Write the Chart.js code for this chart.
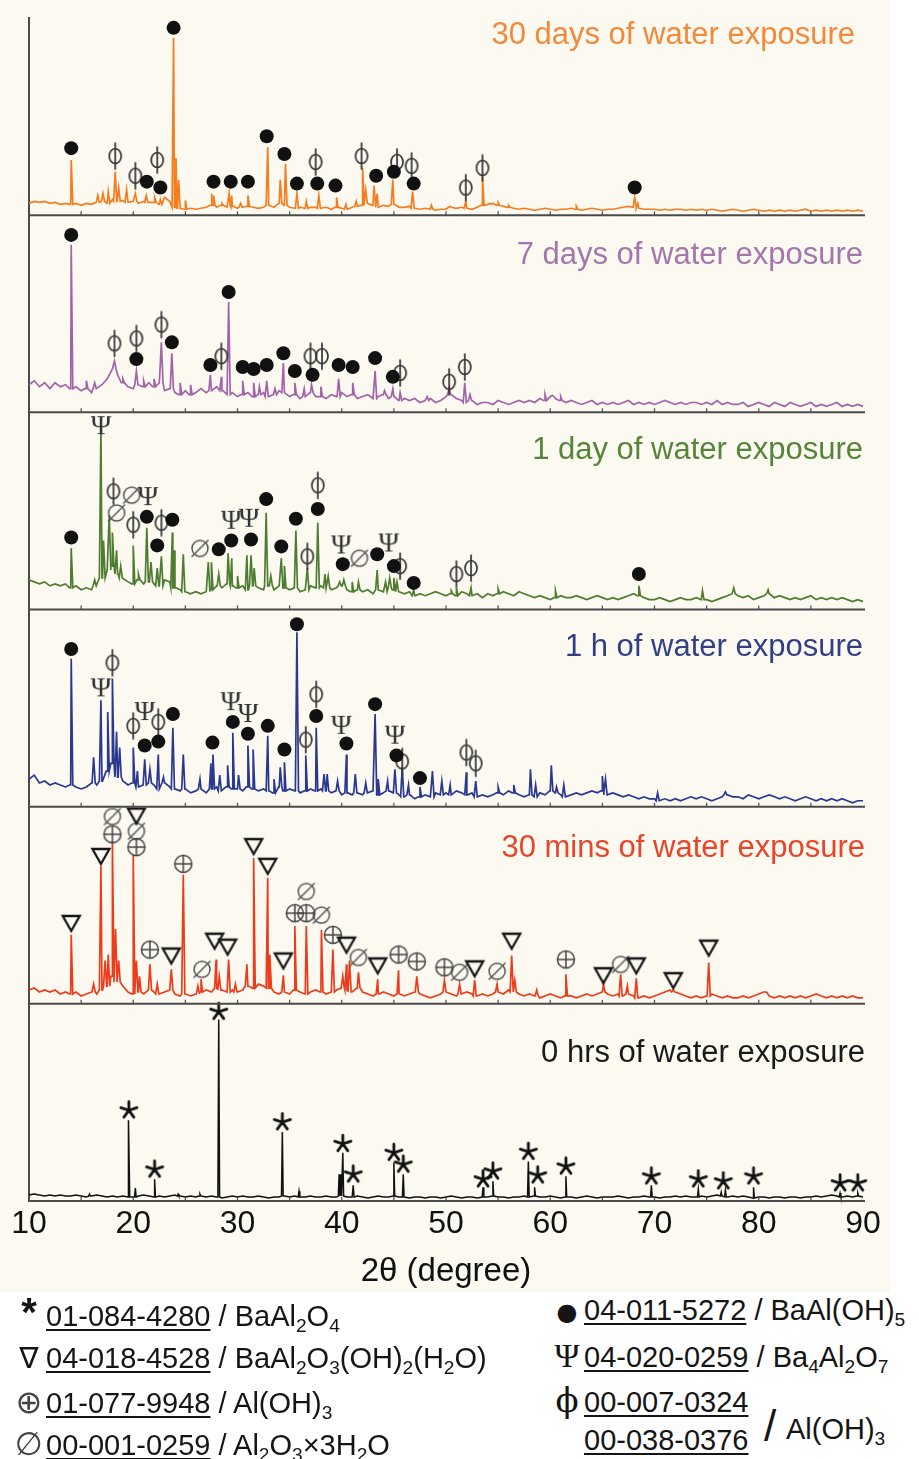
<!DOCTYPE html>
<html>
<head>
<meta charset="utf-8">
<script src="https://cdn.jsdelivr.net/npm/chart.js@4.4.1/dist/chart.umd.min.js"></script>
<style>
  body { margin: 0; background: #fff; width: 919px; height: 1459px; position: relative; overflow: hidden;
         font-family: "Liberation Sans", Arial, sans-serif; }
  #wrap { position: absolute; left: 0; top: 0; width: 890px; height: 1292px; background: #fcf9f1; }
  canvas { display: block; }
  .lg { position: absolute; font-size: 29px; line-height: 30px; color: #151515; white-space: nowrap; }
  .lg u { text-underline-offset: 3px; text-decoration-thickness: 1.5px; }
  .lg sub { font-size: 0.66em; vertical-align: -0.3em; line-height: 0; }
  .sym { display: inline-block; width: 34px; text-align: center; }
</style>
</head>
<body>
<div id="wrap"><canvas id="xrd" width="890" height="1292"></canvas></div>

<div class="lg" style="left:12px;top:1297px"><span class="sym" style="font-size:40px;font-weight:bold">*</span><u>01-084-4280</u> / BaAl<sub>2</sub>O<sub>4</sub></div>
<div class="lg" style="left:12px;top:1343px"><span class="sym" style="font-family:'DejaVu Sans'">∇</span><u>04-018-4528</u> / BaAl<sub>2</sub>O<sub>3</sub>(OH)<sub>2</sub>(H<sub>2</sub>O)</div>
<div class="lg" style="left:12px;top:1387px"><span class="sym" style="font-family:'DejaVu Sans';font-size:32px;color:#444">⊕</span><u>01-077-9948</u> / Al(OH)<sub>3</sub></div>
<div class="lg" style="left:12px;top:1429px"><span class="sym" style="font-family:'DejaVu Sans';font-size:32px;color:#444">∅</span><u>00-001-0259</u> / Al<sub>2</sub>O<sub>3</sub>×3H<sub>2</sub>O</div>

<div class="lg" style="left:550px;top:1295px"><span class="sym" style="font-family:'DejaVu Sans';font-size:24px">●</span><u>04-011-5272</u> / BaAl(OH)<sub>5</sub></div>
<div class="lg" style="left:550px;top:1341px"><span class="sym" style="font-family:'Liberation Serif';font-size:34px">Ψ</span><u>04-020-0259</u> / Ba<sub>4</sub>Al<sub>2</sub>O<sub>7</sub></div>
<div class="lg" style="left:550px;top:1385px"><span class="sym" style="font-family:'DejaVu Serif';font-size:34px">ϕ</span><u>00-007-0324</u></div>
<div class="lg" style="left:584px;top:1425px"><u>00-038-0376</u></div>
<div class="lg" style="left:764px;top:1404px;font-size:44px;line-height:44px">/</div>
<div class="lg" style="left:786px;top:1414px">Al(OH)<sub>3</sub></div>

<script>
// 2-theta grid of the background values (degrees)
const gridStart = 10;
const gridStep = 0.5;

// ---- 30 days (orange) ----
const base30d = [
  6,7,6.5,7,6,6.5,5.5,6, 5.5,6,5,6,5.5,6.5,7,6, 8,7,7.5,6.5,7,6,7,6.5, 6.5,5.5,9,7,4,3.5,3,3.5,
  3,3.5,4,5,4,5,4,4.5, 3.5,4,4.5,4,3.5,4,5,4, 6,5,4,3.5,4,3.5,4,4, 3.5,4,3,4,3.5,3,4,4.5,
  5,6,5,4,5,4.5,5.5,4, 4,4.5,3.5,3,3.5,3,2.5,3, 3,4,3.5,4,3.5,3,4,5, 5.5,6,5,4.5,4,3.5,3,3.5,
  3,2.5,3,3.5,3,2.5,3,3, 3.5,3,2.5,3,3.5,3,2.5,3, 3,3.5,4,4.5,4,3.5,3,3, 3,2.5,3,2.5,3,3,2.5,3,
  2.5,3,2.5,3,2.5,2,2.5,3, 2.5,2,2.5,3,2.5,2,2.5,2, 2.5,2,2.5,2,2.5,3,2,2.5, 2,2.5,2,2.5,2,2.5,2,2.5, 2
];
const peaks30d = [
  [14.05,28],[16.6,10],[17.1,11],[17.6,12],[18.27,22],[18.6,14],[19.36,13],[20.2,11],[21.25,10],[22.05,9],
  [22.6,8],[23.87,90],[24.1,29],[24.35,18],[25.0,7.5],[27.5,11],[27.7,10],[28.5,6],[29.2,11],[29.45,10],
  [30.3,6],[31.0,10],[32.9,34.5],[34.1,18],[34.6,26],[35.7,11],[36.6,7],[37.8,10],[39.5,9],[40.4,5.5],
  [41.4,7],[42.0,24],[42.3,13],[43.1,15],[43.4,11],[44.9,18],[46.8,12],[48.6,5],[50.4,4.5],[51.9,7],
  [53.5,20],[54.2,6],[55.0,6.5],[56.0,5],[62.5,4.5],[68.1,9],[68.4,6]
];
const dot30d = [[14.05,34],[21.3,17],[22.6,14],[23.87,95],[27.7,17],[29.35,17],[31.0,17],[32.8,40],[34.5,31],
  [35.7,16],[37.65,16],[39.4,15],[43.3,20],[45.0,22],[46.9,16],[68.1,14]];
const phi30d = [[18.27,30],[20.2,20],[22.3,28],[37.5,27],[41.9,30],[45.3,27],[46.7,25],[51.9,14],[53.5,24]];

// ---- 7 days (purple) ----
const base7d = [
  14,16,13,15,12,15,13,14, 12,13,11,12,10,12,14,17, 22,19,15,13,12,14,13,15, 13,15,11,12,10,9,11,9,
  10,12,10,11,13,11,9,10, 8,9,10,8,9,10,8,9, 11,10,8,9,7,8,10,8, 8,7,9,8,10,8,9,7,
  8,9,7,8,9,7,8,6, 7,6,7,5,6,7,5,6, 8,9,7,6,5,6,4,5, 5,4,6,5,4,5,6,5,
  6,5,7,6,8,7,6,5, 6,5,4,5,6,4,5,4, 5,4,5,6,4,5,4,5, 4,5,6,5,4,5,4,5,
  5,4,5,4,6,4,5,4, 4,5,3,4,5,4,3,5, 4,3,5,4,3,4,5,3, 4,3,4,5,3,4,3,4, 3
];
const peaks7d = [
  [14.05,85],[15.5,16],[16.3,15],[18.2,26],[19.0,17],[20.3,21],[21.0,16],[22.0,17],[22.7,35.5],[23.7,30],
  [24.5,15],[25.5,14],[27.4,19],[28.45,18],[29.15,56],[30.5,16],[31.55,15],[32.1,13],[32.8,16],[33.6,12],
  [34.4,25],[35.5,15],[36.4,12],[37.1,14],[38.0,13],[39.7,17],[41.05,15],[43.2,21],[44.1,11],[44.9,12],
  [45.6,10],[48.2,8],[50.3,12],[51.8,15],[52.3,9],[59.5,9],[60.2,8.5],[61.0,8]
];
const dot7d = [[14.05,90],[20.3,27],[23.7,35.5],[27.4,24],[29.15,61],[30.5,23],[31.55,22],[32.8,24],[34.4,30],
  [35.5,21],[37.2,19],[39.7,24],[41.05,23],[43.2,27.5],[44.9,18]];
const phi7d = [[18.2,35],[20.3,37.5],[22.7,44.5],[28.45,28.5],[37.0,28.5],[38.1,28.5],[45.6,20],[50.3,15.5],[51.8,23]];

// ---- 1 day (green) ----
const base1d = [
  15,14,13,14,12,13,12,13, 11,12,10,11,10,12,16,20, 22,18,16,14,13,15,13,14, 13,12,15,14,11,10,9,8,
  9,8,9,10,12,11,13,12, 11,12,10,12,11,10,12,10, 12,11,10,11,9,10,12,11, 12,11,10,11,12,10,9,10,
  9,10,8,10,9,11,10,9, 8,9,7,8,7,8,9,8, 7,8,7,9,8,7,8,6, 8,7,8,9,8,7,9,8,
  7,6,7,6,5,6,7,6, 6,7,6,5,6,7,6,5, 6,5,6,7,8,7,6,5, 5,6,5,4,5,6,5,5,
  6,5,5,4,5,6,7,8, 7,6,7,5,6,7,8,6, 7,6,5,6,5,6,7,5, 6,5,6,5,6,5,4,5, 4
];
const peaks1d = [
  [14.05,31],[16.3,15],[16.9,92],[17.15,35],[17.7,48],[18.0,39],[18.4,30],[18.8,22],[20.0,32.5],[20.5,18],
  [21.3,41.5],[21.7,24],[22.3,21],[22.7,27],[23.75,39],[23.95,30],[24.8,28],[27.2,24],[27.5,24],[28.2,18],
  [29.1,28.5],[29.45,26],[30.0,17],[30.9,27.5],[31.3,27.5],[31.6,21],[32.75,49],[33.2,17],[34.2,26],[34.5,22],
  [35.6,40],[36.7,21],[37.7,44],[38.4,18],[38.7,17],[39.8,14],[40.2,15],[41.0,14],[41.6,14],[43.4,20],
  [44.2,14],[44.6,16],[45.0,16],[45.3,14],[46.9,10],[50.5,9.5],[51.0,11],[52.4,11],[55.0,10.5],[60.5,9.5],
  [68.5,12],[74.6,9.5],[77.6,11],[80.9,10]
];
const dot1d = [[14.05,36.5],[21.3,47],[22.3,32.5],[23.75,45.5],[28.2,30.5],[29.4,35],[31.3,35.5],[32.75,56],
  [34.2,32],[35.6,46],[37.7,51],[40.1,23],[43.4,28],[45.0,22],[46.9,13.5],[68.5,18]];
const psi1d = [[16.9,93],[21.4,57],[29.4,45],[31.1,46],[39.95,32.5],[44.5,33.5]];
const phi1d = [[18.1,60],[20.0,43],[22.7,44],[36.7,27],[37.7,63],[45.6,22],[51.0,18],[52.4,21]];
const empty1d = [[18.4,49],[19.85,58],[26.4,31],[41.7,26]];

// ---- 1 h (navy) ----
const base1h = [
  14,16,12,13,11,12,11,10, 11,10,9,10,12,11,13,18, 22,15,13,11,12,10,11,12, 11,9,12,10,9,8,9,7,
  8,9,7,9,10,8,10,9, 9,8,10,9,8,9,8,7, 10,8,9,8,7,8,9,8, 9,8,7,8,6,7,6,7,
  6,7,8,6,7,8,7,6, 5,6,4,5,6,5,7,6, 7,6,8,7,6,7,5,6, 5,6,7,6,8,7,6,5,
  6,5,7,6,8,7,6,5, 6,7,6,7,8,7,8,6, 7,6,5,6,5,4,5,4, 4,3,4,3,4,3,4,5,
  4,5,4,3,4,5,6,5, 5,4,6,5,4,5,6,5, 4,5,4,3,4,5,4,3, 4,3,4,3,4,3,2,3, 3
];
const peaks1h = [
  [14.05,75],[16.2,25],[16.9,54],[17.55,48],[18.0,65],[18.4,38],[18.7,30],[20.0,30],[20.4,18],[21.1,24],
  [21.6,19],[22.4,26.5],[22.9,15],[23.8,40],[24.8,26.5],[26.4,14],[27.45,22],[27.65,26.5],[28.3,16],[29.05,21],
  [29.55,37.5],[30.1,16],[31.0,31],[31.5,29],[32.9,36],[33.5,14],[34.1,20],[34.5,22.5],[35.7,88.5],[36.55,26],
  [37.55,40],[38.3,16.5],[38.6,16.5],[39.6,13],[40.45,26.5],[41.3,16.5],[42.3,12],[43.2,47],[43.5,14],[44.4,13],
  [45.1,19],[45.8,20],[46.4,11],[47.5,10],[48.7,18],[49.6,13],[50.4,11],[51.95,17.5],[52.85,13],[55.0,10],
  [56.5,11],[58.1,19],[58.6,11],[60.1,21],[60.6,10],[61.3,11],[65.0,15.5],[65.3,14],[70.3,7],[76.8,7.5]
];
const dot1h = [[14.05,80],[21.1,31],[22.4,33],[23.8,47],[27.6,32.5],[29.55,43],[31.0,37],[32.9,41],[34.5,29],
  [35.7,92.5],[37.55,46],[40.45,32],[43.2,52],[45.25,26],[47.5,14.5]];
const psi1h = [[16.9,60],[21.1,48],[29.35,53],[31.0,47],[39.95,41],[45.1,36]];
const phi1h = [[18.0,73],[20.0,41],[22.4,43],[36.55,34],[37.55,57],[45.8,23],[51.95,27.5],[52.85,22]];

// ---- 30 mins (red) ----
const base30m = [
  7,8,6,7,6,7,5,6, 5,6,4,5,6,5,7,9, 14,11,9,6,5,6,5,7, 6,5,6,7,5,4,5,4,
  5,6,7,6,8,7,6,7, 6,7,9,8,10,9,8,6, 5,6,5,7,6,5,6,7, 6,5,6,7,8,7,6,8,
  6,5,4,5,6,5,4,5, 4,5,6,5,4,3,4,5, 6,5,4,5,6,5,4,5, 4,5,6,5,7,6,5,4,
  5,4,3,4,5,4,3,4, 4,3,4,5,4,5,6,5, 4,5,4,5,4,3,4,3, 4,5,6,7,6,5,4,3,
  4,3,4,5,4,3,4,3, 3,4,3,4,5,6,4,3, 4,3,4,3,4,3,4,5, 4,3,4,3,4,3,4,3, 3
];
const peaks30m = [
  [14.05,35],[16.2,10],[16.9,70],[17.3,22],[17.6,25],[18.0,82.5],[18.3,38],[18.6,22],[20.0,75.5],[20.3,22],
  [20.6,14],[21.6,20],[22.3,10],[23.65,17.5],[24.8,65.5],[26.2,9],[26.5,12.5],[27.95,22.5],[28.25,14],[29.15,22.5],
  [29.8,10],[30.9,20],[31.55,74],[32.9,64],[33.1,25],[34.4,14.5],[35.5,39.5],[36.6,39.5],[38.05,37.5],[39.15,27.5],
  [40.1,14],[40.45,20],[40.75,22],[41.6,16],[43.45,12.5],[45.45,17],[47.2,14],[49.85,12],[51.3,10],[52.75,12],
  [54.9,10],[56.3,24.5],[56.6,12],[58.7,7],[61.5,15],[65.1,10],[66.75,15],[67.4,9],[68.25,13],[71.8,7],
  [75.2,21],[80.6,6]
];
const tri30m = [[14.05,41],[16.9,75],[20.3,95.5],[23.65,24.5],[27.8,32],[29.05,29],[31.55,80],[32.9,70],[34.4,22],
  [40.45,30],[43.45,19.5],[52.75,18],[56.3,32],[65.1,14.5],[68.25,19.5],[71.8,12],[75.2,28.5]];
const plus30m = [[18.0,86],[20.3,79.5],[21.6,27.5],[24.8,71],[35.5,46],[36.6,46],[39.15,35],[45.45,25],[47.2,21.5],
  [49.85,18.5],[61.5,22.5]];
const empty30m = [[18.0,95],[20.3,87.5],[26.6,17.5],[36.6,57],[38.05,45],[41.6,23.5],[51.3,16],[54.9,16.5],[66.75,20]];

// ---- 0 hrs (black) ----
const base0h = [
  3,3.5,3,2.5,3,2.5,3,2.5, 2.5,3,2.5,2,2.5,3,2.5,2, 2.5,2,2.5,2,2,2.5,3,2.5, 2,2.5,2,2.5,3,2.5,2,2.5,
  2,2.5,2,2.5,2,1.5,2,2.5, 2,2.5,2,2,2.5,2,1.5,2, 2,2.5,2,2.5,2,2,2.5,2, 2,2.5,2,2,2.5,2,2,2.5,
  2,1.5,2,2.5,2,2,2.5,2, 2,1.5,2,2,1.5,2,2,1.5, 2,2.5,2,1.5,2,2,1.5,2, 2,2.5,2,2,1.5,2,2,2.5,
  2,2.5,2,2,2.5,2,1.5,2, 2,1.5,2,2.5,2,1.5,2,2, 2,2.5,2,1.5,2,2,2.5,2, 2,1.5,2,2,2.5,2,2.5,2,
  2,2.5,2,2.5,3,2.5,2,2.5, 2,2.5,2,1.5,2,2,1.5,2, 2,1.5,2,2,1.5,2,2,2.5, 2,2.5,3,2.5,2,2.5,2,2.5, 2
];
const peaks0h = [
  [15.8,3.5],[19.58,41],[20.2,6.5],[22.05,11],[24.3,3.5],[26.4,3.5],[28.2,92],[34.3,35],[35.9,5],[39.75,13.5],
  [39.9,13.5],[40.1,24.5],[41.1,8],[45.0,19.5],[45.9,13.5],[53.55,7],[54.5,10],[57.9,20],[58.5,7],[61.5,12.5],
  [69.7,8],[74.2,6],[76.4,4.5],[76.8,5.5],[79.5,7],[87.8,4],[89.5,4]
];
const star0h = [[19.58,46],[22.05,16],[28.2,96],[34.3,40],[40.1,29],[41.1,13.5],[45.0,24.5],[45.9,18.5],[53.55,11],
  [54.5,15],[57.9,25],[58.8,13],[61.5,17.5],[69.7,12.5],[74.2,11],[76.6,10],[79.5,12.5],[87.8,9],[89.5,9]];

const panelNames = ['30 days of water exposure', '7 days of water exposure', '1 day of water exposure',
  '1 h of water exposure', '30 mins of water exposure', '0 hrs of water exposure'];
const bases = [base30d, base7d, base1d, base1h, base30m, base0h];
const peakLists = [peaks30d, peaks7d, peaks1d, peaks1h, peaks30m, peaks0h];
const xTicks = [10, 20, 30, 40, 50, 60, 70, 80, 90];

// styles
const lineColors = ['#f47d20', '#a263a8', '#4e7c30', '#2a3890', '#ec3c1c', '#111111'];
const labelColors = ['#f28a3a', '#a477ab', '#55853a', '#323f86', '#e8452a', '#1a1a1a'];
const labelRight = [855, 863, 863, 863, 865, 865];
const labelDy = [17, 40, 38, 38, 42, 50];
const peakHalf = [0.15, 0.15, 0.15, 0.15, 0.15, 0.08];
const lineWidths = [1.7, 1.7, 1.7, 1.7, 1.7, 1.5];
const panelIds = ['p0', 'p1', 'p2', 'p3', 'p4', 'p5'];

// one line per pattern: background grid plus each peak as foot-top-foot
function trace(base, peaks, half) {
  const pts = base.map((v, i) => ({ x: gridStart + i * gridStep, y: v }));
  peaks.forEach(([x, h]) => {
    const foot = base[Math.round((x - gridStart) / gridStep)];
    pts.push({ x: x - half, y: foot }, { x: x, y: h }, { x: x + half, y: foot });
  });
  return pts.sort((a, b) => a.x - b.x);
}

// phase symbols drawn once into small canvases, used as point styles
function glyph(kind) {
  const c = document.createElement('canvas');
  c.width = 26; c.height = 30;
  const g = c.getContext('2d');
  g.translate(13, 15);
  g.lineCap = 'round';
  if (kind === 'phi') {
    g.strokeStyle = '#333'; g.lineWidth = 1.7;
    g.beginPath(); g.moveTo(0, -13); g.lineTo(0, 13); g.stroke();
    g.beginPath(); g.ellipse(0, 0, 6, 7.5, 0, 0, Math.PI * 2); g.stroke();
  } else if (kind === 'psi') {
    g.fillStyle = '#333'; g.font = '28px "Liberation Serif"';
    g.textAlign = 'center'; g.textBaseline = 'middle';
    g.fillText('Ψ', 0, 1);
  } else if (kind === 'tri') {
    g.strokeStyle = '#161616'; g.lineWidth = 2.3; g.lineJoin = 'miter';
    g.beginPath(); g.moveTo(-8.5, -7); g.lineTo(8.5, -7); g.lineTo(0, 8); g.closePath(); g.stroke();
  } else if (kind === 'plus') {
    g.strokeStyle = '#454545'; g.lineWidth = 1.5;
    g.beginPath(); g.arc(0, 0, 8.5, 0, Math.PI * 2); g.stroke();
    g.beginPath(); g.moveTo(-8.5, 0); g.lineTo(8.5, 0); g.moveTo(0, -8.5); g.lineTo(0, 8.5); g.stroke();
  } else if (kind === 'empty') {
    g.strokeStyle = '#555'; g.lineWidth = 1.5;
    g.beginPath(); g.arc(0, 0, 8, 0, Math.PI * 2); g.stroke();
    g.beginPath(); g.moveTo(-8, 8); g.lineTo(8, -8); g.stroke();
  } else if (kind === 'star') {
    g.strokeStyle = '#111'; g.lineWidth = 2.8;
    g.beginPath();
    for (let k = 0; k < 5; k++) {
      const a = -Math.PI / 2 + k * Math.PI * 2 / 5;
      g.moveTo(0, 0); g.lineTo(Math.cos(a) * 8.5, Math.sin(a) * 8.5);
    }
    g.stroke();
  }
  return c;
}

const markerSets = [
  [0, 'dot', dot30d], [0, 'phi', phi30d],
  [1, 'dot', dot7d], [1, 'phi', phi7d],
  [2, 'dot', dot1d], [2, 'psi', psi1d], [2, 'phi', phi1d], [2, 'empty', empty1d],
  [3, 'dot', dot1h], [3, 'psi', psi1h], [3, 'phi', phi1h],
  [4, 'tri', tri30m], [4, 'plus', plus30m], [4, 'empty', empty30m],
  [5, 'star', star0h]
];

const datasets = [];
markerSets.forEach(([p, kind, pts]) => {
  const isDot = kind === 'dot';
  datasets.push({
    label: kind,
    data: pts.map(([x, y]) => ({ x, y })),
    yAxisID: panelIds[p],
    showLine: false,
    pointStyle: isDot ? 'circle' : glyph(kind),
    pointRadius: isDot ? 7 : 5,
    backgroundColor: '#111',
    borderWidth: 0,
    clip: false,
    order: 0
  });
});
bases.forEach((base, p) => {
  datasets.push({
    label: panelNames[p],
    data: trace(base, peakLists[p], peakHalf[p]),
    yAxisID: panelIds[p],
    showLine: true,
    borderColor: lineColors[p],
    borderWidth: lineWidths[p],
    pointRadius: 0,
    tension: 0,
    clip: false,
    order: 1
  });
});

const scales = {
  x: {
    type: 'linear', min: 10, max: 90,
    afterBuildTicks: s => { s.ticks = xTicks.map(v => ({ value: v })); },
    ticks: { font: { family: 'Liberation Sans', size: 32 }, color: '#111', padding: 4, maxRotation: 0 },
    grid: { display: false, drawTicks: false },
    border: { display: true, color: '#4a4a4a', width: 2 },
    title: { display: true, text: '2θ (degree)', font: { family: 'Liberation Sans', size: 33 }, color: '#111',
             padding: { top: 0, bottom: 0 } },
    afterFit: s => { s.height = 91; }
  }
};
panelIds.forEach((id, p) => {
  scales[id] = {
    type: 'linear', position: 'left', stack: 'xrd', stackWeight: 1, weight: 6 - p,
    min: 0, max: 100, offset: false,
    ticks: { display: false },
    grid: { display: false, drawTicks: false },
    border: { display: true, color: '#4a4a4a', width: 2 }
  };
});

// panel separators, inward minor ticks and the sample names
const panelDecor = {
  id: 'panelDecor',
  afterDraw(chart) {
    const { ctx } = chart;
    const xs = chart.scales.x;
    ctx.save();
    panelIds.forEach((id, p) => {
      const sc = chart.scales[id];
      const b = sc.bottom;
      ctx.strokeStyle = '#4a4a4a';
      ctx.lineWidth = 2;
      ctx.beginPath(); ctx.moveTo(xs.left, b); ctx.lineTo(xs.right + 2, b); ctx.stroke();
      ctx.lineWidth = 1.2;
      ctx.beginPath();
      for (let v = 15; v < 90; v += 5) {
        const px = xs.getPixelForValue(v);
        ctx.moveTo(px, b); ctx.lineTo(px, b - 4);
      }
      ctx.stroke();
      ctx.fillStyle = labelColors[p];
      ctx.font = '31px "Liberation Sans"';
      ctx.textAlign = 'right';
      ctx.textBaseline = 'middle';
      ctx.fillText(panelNames[p], labelRight[p], sc.top + labelDy[p]);
    });
    ctx.restore();
  }
};

new Chart(document.getElementById('xrd'), {
  type: 'scatter',
  data: { datasets },
  options: {
    responsive: false,
    animation: false,
    events: [],
    layout: { padding: { top: 18, left: 29, right: 27, bottom: 0 } },
    plugins: { legend: { display: false }, tooltip: { enabled: false } },
    scales
  },
  plugins: [panelDecor]
});
</script>
</body>
</html>
